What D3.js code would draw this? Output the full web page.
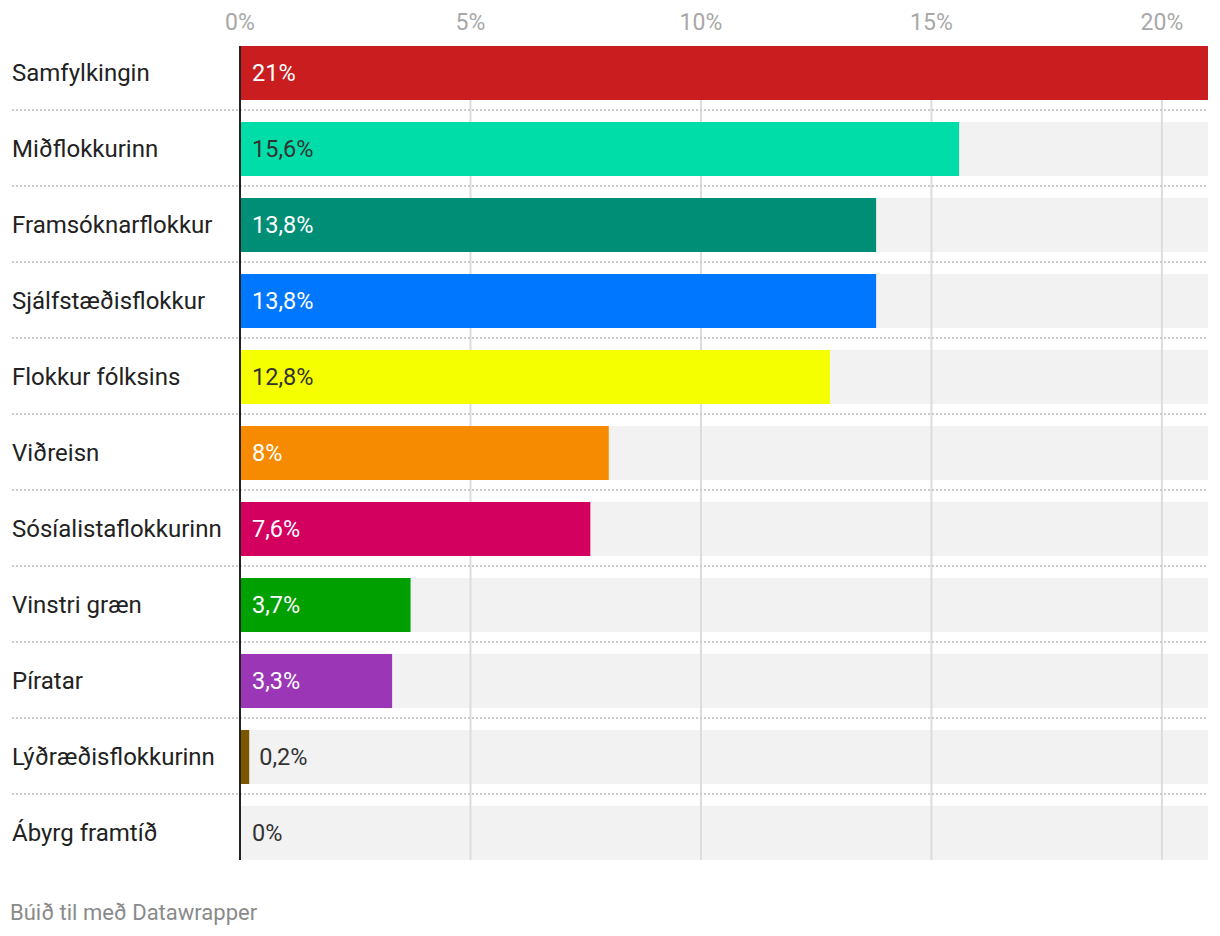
<!DOCTYPE html>
<html><head><meta charset="utf-8">
<script src="https://cdn.jsdelivr.net/npm/d3@7"></script>
<style>
body{margin:0;background:#fff;font-family:Roboto,"Noto Sans",sans-serif;}
</style></head>
<body><svg id="c" width="1220" height="936"></svg>
<script>
const parties = ["Samfylkingin","Miðflokkurinn","Framsóknarflokkur","Sjálfstæðisflokkur","Flokkur fólksins","Viðreisn","Sósíalistaflokkurinn","Vinstri græn","Píratar","Lýðræðisflokkurinn","Ábyrg framtíð"];
const values = [21, 15.6, 13.8, 13.8, 12.8, 8, 7.6, 3.7, 3.3, 0.2, 0];
const valueLabels = ["21%","15,6%","13,8%","13,8%","12,8%","8%","7,6%","3,7%","3,3%","0,2%","0%"];
const colors = ["#c91d1f","#00dda8","#008f76","#0077ff","#f5ff00","#f68a00","#d4005f","#00a000","#9b36b7","#7c5500","#888888"];
const darkText = [false,true,false,false,true,false,false,false,false,false,false];
const ticks = [0,5,10,15,20];
const tickLabels = ["0%","5%","10%","15%","20%"];

const svg = d3.select("#c");
const xL = 240, xR = 1208;
const x = d3.scaleLinear().domain([0,21]).range([xL, xR]);
const yStart = 46, rowStep = 76, gap = 22;
const y = d3.scaleBand().domain(parties)
  .range([yStart, yStart + rowStep*parties.length - gap])
  .paddingInner(gap/rowStep).paddingOuter(0);
const bh = y.bandwidth();
const yEnd = y(parties[parties.length-1]) + bh;

svg.selectAll("rect.bg").data(parties).enter().append("rect")
  .attr("x", xL).attr("y", d=>y(d)).attr("width", xR-xL).attr("height", bh)
  .attr("fill","#f2f2f2");

svg.selectAll("line.grid").data(ticks.slice(1)).enter().append("line")
  .attr("x1", d=>x(d)).attr("x2", d=>x(d))
  .attr("y1", yStart).attr("y2", yEnd)
  .attr("stroke","#dcdcdc").attr("stroke-width",2);

svg.selectAll("line.sep").data(parties.slice(0,-1)).enter().append("line")
  .attr("x1", 12).attr("x2", xR)
  .attr("y1", d=>y(d)+bh+10).attr("y2", d=>y(d)+bh+10)
  .attr("stroke","#cccccc").attr("stroke-width",2).attr("stroke-dasharray","2,2");

svg.selectAll("rect.bar").data(parties).enter().append("rect")
  .attr("x", xL).attr("y", d=>y(d)).attr("width", (d,i)=>x(values[i])-xL).attr("height", bh)
  .attr("fill",(d,i)=>colors[i]);

svg.append("line").attr("x1",xL).attr("x2",xL).attr("y1",yStart).attr("y2",yEnd)
  .attr("stroke","#222").attr("stroke-width",2);

svg.selectAll("text.tick").data(ticks).enter().append("text")
  .attr("x", d=>x(d)).attr("y", 30).attr("text-anchor","middle")
  .attr("font-size",23).attr("fill","#a8a8a8").text((d,i)=>tickLabels[i]);

svg.selectAll("text.cat").data(parties).enter().append("text")
  .attr("x", 12).attr("y", d=>y(d)+bh/2+8)
  .attr("font-size",24).attr("fill","#222").text(d=>d);

svg.selectAll("text.val").data(parties).enter().append("text")
  .attr("x",(d,i)=>{ const w = x(values[i])-xL; return w > 60 ? xL+12 : x(values[i])+10 + (values[i]>0?0:2); })
  .attr("y", d=>y(d)+bh/2+8)
  .attr("font-size",23.5)
  .attr("fill",(d,i)=>{ const w = x(values[i])-xL; if (w<=60) return "#333"; return darkText[i] ? "#333" : "#ffffff"; })
  .text((d,i)=>valueLabels[i]);

svg.append("text").attr("x",10).attr("y",920).attr("font-size",22).attr("fill","#8a8a8a").text("Búið til með Datawrapper");
</script>
</body></html>
